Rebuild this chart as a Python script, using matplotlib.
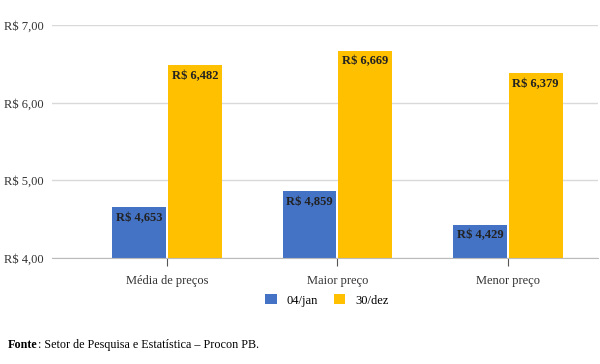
import numpy as np
import matplotlib
matplotlib.use("Agg")
import matplotlib.pyplot as plt

categories = ["Média de preços", "Maior preço", "Menor preço"]
jan = [4.653, 4.859, 4.429]
dez = [6.482, 6.669, 6.379]
series_labels = ["04/jan", "30/dez"]
colors = ["#4472C4", "#FFC000"]
yticks = [4.0, 5.0, 6.0, 7.0]

plt.rcParams["font.family"] = ["Liberation Serif", "DejaVu Serif"]

fig = plt.figure(figsize=(6, 3.64), dpi=100)
ax = fig.add_axes([0.087, 0.291, 0.91, 0.64])

x = np.arange(len(categories))
w = 0.315
for vals, lab, c, off in ((jan, series_labels[0], colors[0], -w / 2 - 0.006),
                          (dez, series_labels[1], colors[1], w / 2 + 0.006)):
    bars = ax.bar(x + off, np.array(vals) - 4.0, w, bottom=4.0, color=c,
                  label=lab, zorder=3)
    for b, v in zip(bars, vals):
        ax.text(b.get_x() + b.get_width() / 2, v - 0.06,
                "R$ " + f"{v:.3f}".replace(".", ","), ha="center", va="top",
                fontsize=9, fontweight="bold", color="#222222", zorder=4)

ax.set_ylim(4.0, 7.0)
ax.set_xlim(-0.674, 2.53)
ax.set_yticks(yticks)
ax.set_yticklabels(["R$ " + f"{t:.2f}".replace(".", ",") for t in yticks],
                   fontsize=9, color="#333333")
ax.set_xticks(x)
ax.set_xticklabels(categories, fontsize=9, color="#333333")
ax.tick_params(axis="y", length=0, pad=6)
ax.tick_params(axis="x", length=6, color="#555555", pad=6)
ax.grid(axis="y", color="#d9d9d9", lw=1, zorder=0)
for s in ("top", "right", "left"):
    ax.spines[s].set_visible(False)
ax.spines["bottom"].set_color("#bbbbbb")
ax.spines["bottom"].set_zorder(5)

fig.legend(loc="center", bbox_to_anchor=(0.545, 0.175), ncol=2, frameon=False,
           fontsize=9, handlelength=0.9, handleheight=0.9, columnspacing=1.3,
           handletextpad=0.8)

# footer: bold "Fonte" followed by regular text
t1 = fig.text(0.013, 0.052, "Fonte", fontsize=8.7, fontweight="bold",
              ha="left", va="center")
fig.canvas.draw()
bb = t1.get_window_extent().transformed(fig.transFigure.inverted())
fig.text(bb.x1, 0.052, ": Setor de Pesquisa e Estatística – Procon PB.",
         fontsize=8.7, ha="left", va="center")
fig.savefig("out.png", dpi=100)
